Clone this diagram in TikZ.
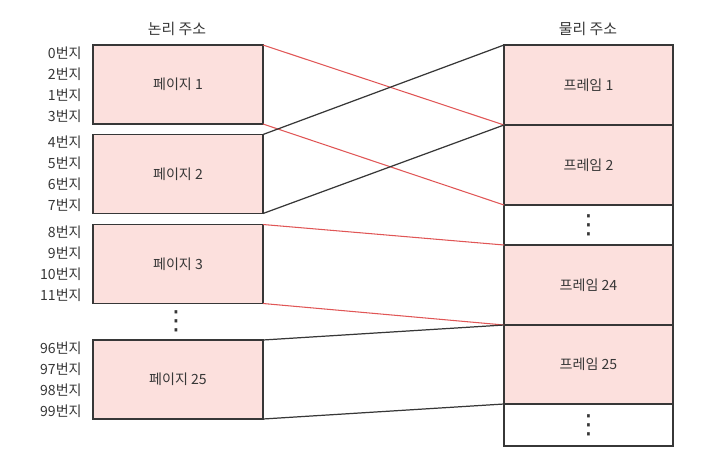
\documentclass[tikz,border=0pt]{standalone}
\usepackage{fontspec}
\setmainfont{Noto Sans CJK KR}
\newfontfamily\symfont{DejaVu Sans}
\usepackage{xcolor}
\usepackage{tikz}
\usetikzlibrary{positioning,calc}
\definecolor{pagepink}{RGB}{252,224,221}
\definecolor{mapred}{RGB}{224,86,86}
\definecolor{edgegray}{RGB}{55,55,55}
\newcommand{\stackdots}{{\symfont\fontsize{15}{15}\selectfont ⋮}}

\begin{document}
\begin{tikzpicture}[
    pagebox/.style={draw=edgegray, line width=0.8pt, fill=pagepink, minimum width=3.4cm, minimum height=1.58cm, outer sep=0pt, font=\fontsize{8}{10}\selectfont, text=edgegray},
    framebox/.style={pagebox, minimum width=3.38cm, minimum height=1.6cm},
    emptybox/.style={framebox, fill=white, minimum height=0.8cm},
    addr/.style={anchor=east, font=\fontsize{8}{10}\selectfont, text=edgegray, inner sep=0pt},
    title/.style={font=\fontsize{8.5}{10}\selectfont, text=edgegray},
    redmap/.style={draw=mapred, line width=0.6pt},
    blackmap/.style={draw=edgegray, line width=0.7pt}
]
    \useasboundingbox (0,0) rectangle (14.28,-9.2);

    % Logical address: pages
    \node[title] (ltitle) at (3.54,-0.58) {논리 주소};
    \node[pagebox] (p1) at (3.56,-1.69) {페이지 1};
    \node[pagebox] (p2) at (3.56,-3.48) {페이지 2};
    \node[pagebox] (p3) at (3.56,-5.28) {페이지 3};
    \node[text=edgegray] (pdots) at (3.52,-6.42) {\stackdots};
    \node[pagebox] (p25) at (3.56,-7.59) {페이지 25};

    % Address labels left of each page
    \foreach \adr [count=\i] in {0,2,1,3}
        \node[addr] (a1-\i) at ($(p1.west)+(-0.22,1.05-0.42*\i)$) {\adr{}번지};
    \foreach \adr [count=\i] in {4,5,6,7}
        \node[addr] (a2-\i) at ($(p2.west)+(-0.22,1.05-0.42*\i)$) {\adr{}번지};
    \foreach \adr [count=\i] in {8,9,10,11}
        \node[addr] (a3-\i) at ($(p3.west)+(-0.22,1.05-0.42*\i)$) {\adr{}번지};
    \foreach \adr [count=\i] in {96,97,98,99}
        \node[addr] (a25-\i) at ($(p25.west)+(-0.22,1.05-0.42*\i)$) {\adr{}번지};

    % Physical address: frames
    \node[title] (ptitle) at (11.76,-0.58) {물리 주소};
    \node[framebox] (f1) at (11.77,-1.70) {프레임 1};
    \node[framebox, below=0pt of f1] (f2) {프레임 2};
    \node[emptybox, below=0pt of f2] (fd1) {\stackdots};
    \node[framebox, below=0pt of fd1] (f24) {프레임 24};
    \node[framebox, minimum height=1.58cm, below=0pt of f24] (f25) {프레임 25};
    \node[emptybox, minimum height=0.84cm, below=0pt of f25] (fd2) {\stackdots};

    % Mapping lines
    \draw[redmap] (p1.north east) -- (f1.south west);
    \draw[redmap] (p1.south east) -- (f2.south west);
    \draw[blackmap] (p2.north east) -- (f1.north west);
    \draw[blackmap] (p2.south east) -- (f2.north west);
    \draw[redmap] (p3.north east) -- (f24.north west);
    \draw[redmap] (p3.south east) -- (f24.south west);
    \draw[blackmap] (p25.north east) -- (f25.north west);
    \draw[blackmap] (p25.south east) -- (f25.south west);

\end{tikzpicture}
\end{document}
